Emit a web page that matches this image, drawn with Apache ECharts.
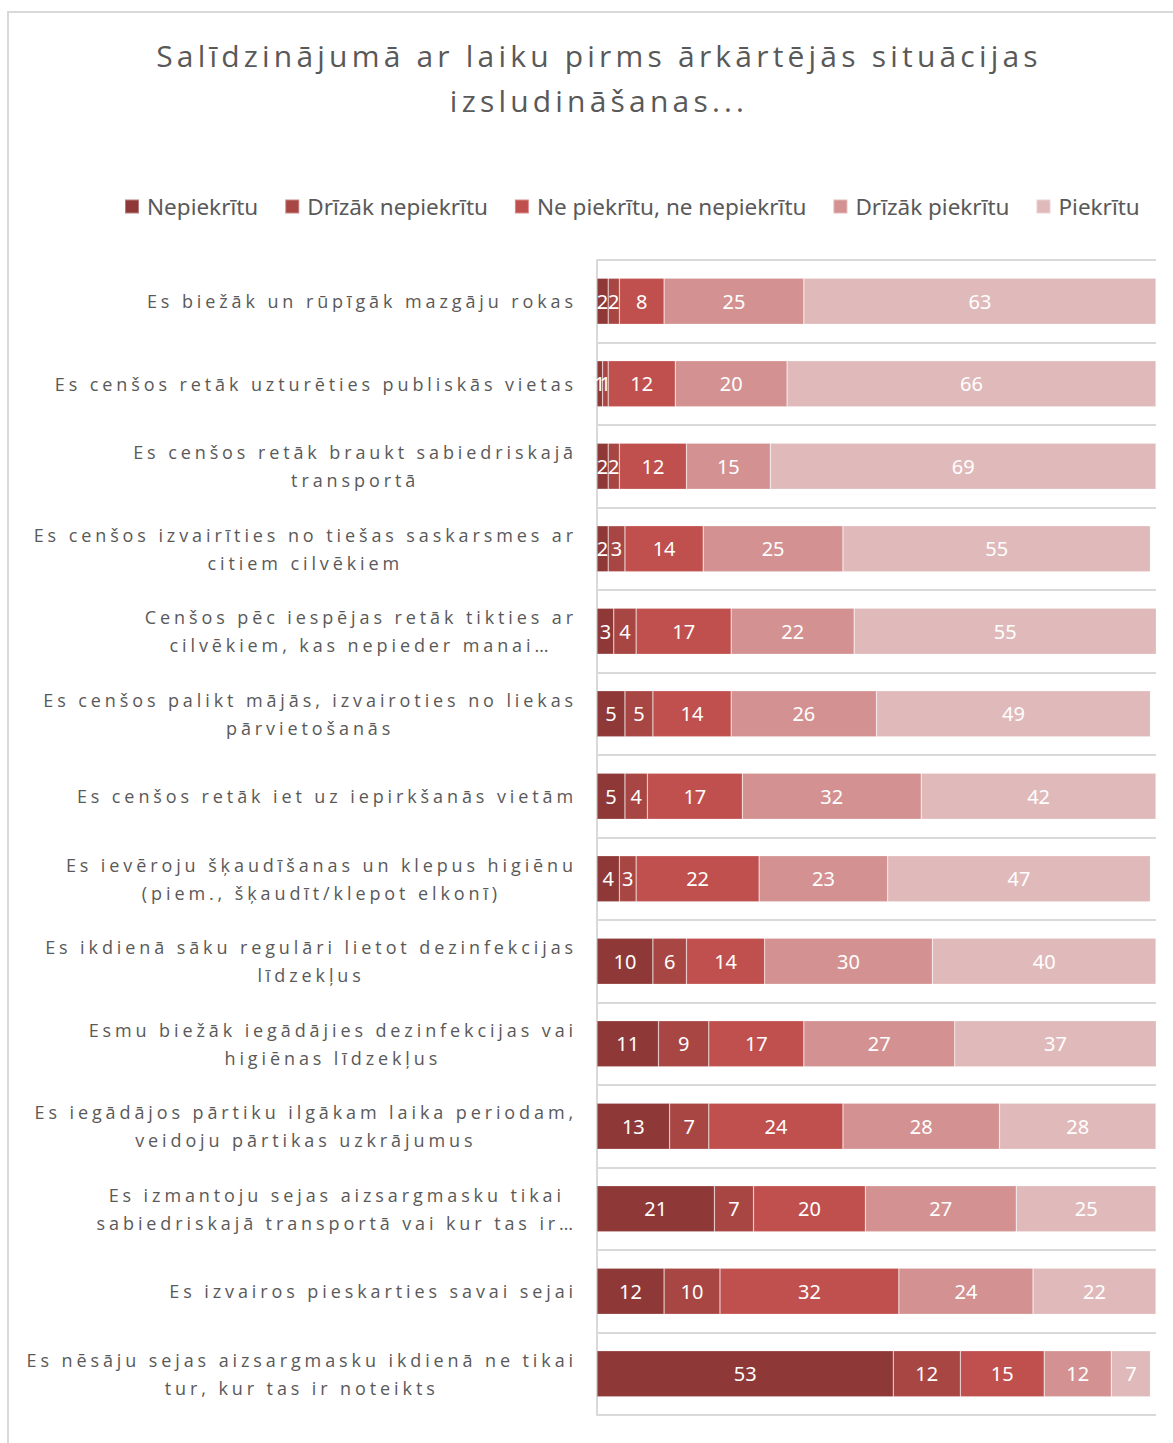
<!DOCTYPE html>
<html lang="lv">
<head>
<meta charset="utf-8">
<title>Salīdzinājumā ar laiku pirms ārkārtējās situācijas izsludināšanas...</title>
<script src="https://cdn.jsdelivr.net/npm/echarts@6/dist/echarts.min.js"></script>
<style>
  html, body { margin: 0; padding: 0; background: #ffffff; }
  #chart { width: 1173px; height: 1443px; }
  /* spaced-out lettering for the title and the statement labels */
  #chart text[style*="Open Sans"] { letter-spacing: 3.9px; }
  #chart text[style*="Open Sans"][style*="30px"] { letter-spacing: 4.2px; }
</style>
</head>
<body>
<div id="chart"></div>
<script>
// Survey statements (top to bottom)
const categories = [
  'Es biežāk un rūpīgāk mazgāju rokas',
  'Es cenšos retāk uzturēties publiskās vietas',
  'Es cenšos retāk braukt sabiedriskajā\ntransportā',
  'Es cenšos izvairīties no tiešas saskarsmes ar\ncitiem cilvēkiem',
  'Cenšos pēc iespējas retāk tikties ar\ncilvēkiem, kas nepieder manai…',
  'Es cenšos palikt mājās, izvairoties no liekas\npārvietošanās',
  'Es cenšos retāk iet uz iepirkšanās vietām',
  'Es ievēroju šķaudīšanas un klepus higiēnu\n(piem., šķaudīt/klepot elkonī)',
  'Es ikdienā sāku regulāri lietot dezinfekcijas\nlīdzekļus',
  'Esmu biežāk iegādājies dezinfekcijas vai\nhigiēnas līdzekļus',
  'Es iegādājos pārtiku ilgākam laika periodam,\nveidoju pārtikas uzkrājumus',
  'Es izmantoju sejas aizsargmasku tikai\nsabiedriskajā transportā vai kur tas ir…',
  'Es izvairos pieskarties savai sejai',
  'Es nēsāju sejas aizsargmasku ikdienā ne tikai\ntur, kur tas ir noteikts'
];

// Answer shares, %
const nepiekritu             = [2, 1, 2, 2, 3, 5, 5, 4, 10, 11, 13, 21, 12, 53];
const drizakNepiekritu       = [2, 1, 2, 3, 4, 5, 4, 3, 6, 9, 7, 7, 10, 12];
const nePiekrituNeNepiekritu = [8, 12, 12, 14, 17, 14, 17, 22, 14, 17, 24, 20, 32, 15];
const drizakPiekritu         = [25, 20, 15, 25, 22, 26, 32, 23, 30, 27, 28, 27, 24, 12];
const piekritu               = [63, 66, 69, 55, 55, 49, 42, 47, 40, 37, 28, 25, 22, 7];

const seriesNames = ['Nepiekrītu', 'Drīzāk nepiekrītu', 'Ne piekrītu, ne nepiekrītu', 'Drīzāk piekrītu', 'Piekrītu'];
const seriesValues = [nepiekritu, drizakNepiekritu, nePiekrituNeNepiekritu, drizakPiekritu, piekritu];
const seriesColors = ['#8E3937', '#A84643', '#C0504D', '#D39291', '#E0BABA'];

const titleText = 'Salīdzinājumā ar laiku pirms ārkārtējās situācijas\nizsludināšanas...';

// Letter spacing used by the spaced fonts, so text layout accounts for it
const LABEL_SPACING = 3.9;
const TITLE_SPACING = 4.2;
const measureCtx = document.createElement('canvas').getContext('2d');
function spacingFor(font) {
  if (!font || font.indexOf('Open Sans') < 0) return 0;
  const m = font.match(/(\d+(?:\.\d+)?)px/);
  const size = m ? parseFloat(m[1]) : 12;
  return size >= 24 ? TITLE_SPACING : LABEL_SPACING;
}
if (echarts.setPlatformAPI) {
  echarts.setPlatformAPI({
    measureText: function (text, font) {
      measureCtx.font = font || '12px sans-serif';
      const s = String(text);
      return { width: measureCtx.measureText(s).width + spacingFor(font) * s.length };
    }
  });
}

const chart = echarts.init(document.getElementById('chart'), null, { renderer: 'svg' });

const option = {
  backgroundColor: '#ffffff',
  animation: false,
  graphic: [{
    type: 'rect',
    silent: true,
    shape: { x: 8, y: 12, width: 1300, height: 1600 },
    style: { fill: 'none', stroke: '#D9D9D9', lineWidth: 2 }
  }],
  title: {
    text: titleText,
    left: 594,
    top: 28,
    textAlign: 'center',
    textStyle: {
      fontFamily: 'Open Sans',
      fontSize: 30,
      fontWeight: 'normal',
      color: '#595959',
      lineHeight: 45
    }
  },
  legend: {
    data: seriesNames,
    left: 119,
    top: 190,
    itemWidth: 14,
    itemHeight: 14,
    itemGap: 26,
    icon: 'rect',
    textStyle: {
      fontFamily: 'Noto Sans',
      fontSize: 22.5,
      color: '#595959',
      padding: [0, 0, 0, 3]
    }
  },
  grid: {
    left: 597,
    right: 17,
    top: 260,
    bottom: 28,
    containLabel: false
  },
  xAxis: {
    type: 'value',
    min: 0,
    max: 100,
    show: false
  },
  yAxis: {
    type: 'category',
    data: categories,
    inverse: true,
    axisLine: { show: true, lineStyle: { color: '#D9D9D9', width: 2 } },
    axisTick: { show: false },
    splitLine: { show: true, interval: 0, lineStyle: { color: '#D9D9D9', width: 2 } },
    axisLabel: {
      interval: 0,
      margin: 20,
      align: 'right',
      formatter: function (value) {
        return value.split('\n').map(function (line) { return '{c|' + line + '}'; }).join('\n');
      },
      rich: {
        c: {
          align: 'center',
          fontFamily: 'Open Sans',
          fontSize: 18,
          color: '#595959',
          lineHeight: 28
        }
      }
    }
  },
  series: seriesNames.map(function (name, i) {
    return {
      name: name,
      type: 'bar',
      stack: 'total',
      barWidth: 46,
      data: seriesValues[i],
      itemStyle: { color: seriesColors[i], borderColor: 'rgba(255,255,255,0.35)', borderWidth: 0.6 },
      label: {
        show: true,
        position: 'inside',
        color: '#ffffff',
        fontFamily: 'Noto Sans',
        fontSize: 20
      },
      emphasis: { disabled: true }
    };
  })
};

chart.setOption(option);
</script>
</body>
</html>
